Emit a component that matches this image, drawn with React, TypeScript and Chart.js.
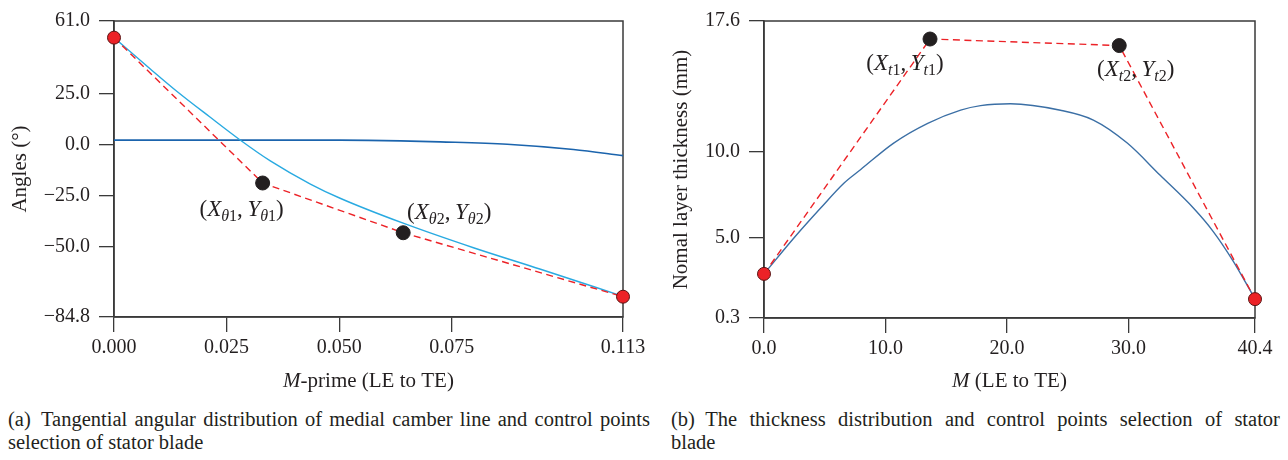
import React, { useEffect, useRef } from "react";
import { Chart, registerables } from "chart.js";

Chart.register(...registerables);

const SERIF = "'Liberation Serif', 'Times New Roman', Times, serif";
const INK = "#231f20";
const AXIS = "#3a3a3a";
const RED = "#ec2227";
const RED_EDGE = "#5a1414";
const DOT = "#231f20";

// ---------- (a) tangential angle vs M-prime ----------
const mPrimeTicks = [0, 0.025, 0.05, 0.075, 0.113];
const angleTicks = [-84.8, -50.0, -25.0, 0.0, 25.0, 61.0];
const camberM = [0, 0.008, 0.014, 0.0213, 0.028, 0.0347, 0.0436, 0.0502, 0.0642, 0.0798, 0.0947, 0.113];
const camberAngle = [52.8, 37.5, 26.3, 13.7, 2.4, -7.9, -19.3, -26.3, -38.6, -50.7, -61.3, -74.6];
const flatM = [0, 0.025, 0.0502, 0.0636, 0.0724, 0.0873, 0.102, 0.113];
const flatAngle = [2.3, 2.3, 2.3, 2.0, 1.5, 0.3, -2.3, -5.3];
const angleCtrlM = [0, 0.033, 0.0642, 0.113];
const angleCtrlValue = [52.8, -18.8, -43.3, -74.8];

// ---------- (b) thickness vs M ----------
const mTicks = [0, 10, 20, 30, 40.4];
const thicknessTicks = [0.3, 5.0, 10.0, 17.6];
const thickM = [0, 2.46, 4.68, 6.57, 7.96, 10.67, 13.47, 16.18, 17.82, 20.28, 24.39, 27.1, 29.89, 32.6, 35.31, 36.95, 38.59, 39.99, 40.4];
const thickValue = [2.87, 4.96, 6.72, 8.15, 8.95, 10.49, 11.64, 12.41, 12.67, 12.78, 12.4, 11.83, 10.49, 8.61, 6.72, 5.35, 3.63, 1.92, 1.4];
const thickCtrlM = [0, 13.66, 29.23, 40.4];
const thickCtrlValue = [2.87, 16.55, 16.17, 1.4];

type Part = { t: string; italic?: boolean; sub?: boolean };

const ctrlLabel = (sym: string, idx: string): Part[] => [
  { t: "(" },
  { t: "X", italic: true },
  { t: sym, italic: true, sub: true },
  { t: idx, sub: true },
  { t: ",\u2009" },
  { t: "Y", italic: true },
  { t: sym, italic: true, sub: true },
  { t: idx, sub: true },
  { t: ")" },
];

function drawParts(ctx: CanvasRenderingContext2D, parts: Part[], cx: number, cy: number, size: number) {
  const subSize = Math.round(size * 0.7);
  const fontFor = (p: Part) => `${p.italic ? "italic " : ""}${p.sub ? subSize : size}px ${SERIF}`;
  let w = 0;
  parts.forEach((p) => {
    ctx.font = fontFor(p);
    w += ctx.measureText(p.t).width;
  });
  let x = cx - w / 2;
  ctx.textAlign = "left";
  ctx.textBaseline = "alphabetic";
  const base = cy + size * 0.33;
  parts.forEach((p) => {
    ctx.font = fontFor(p);
    ctx.fillText(p.t, x, base + (p.sub ? size * 0.22 : 0));
    x += ctx.measureText(p.t).width;
  });
}

type Deco = {
  xTitle: Part[];
  xTitleY: number;
  yTitle: string;
  yTitleX: number;
  notes: { index: number; parts: Part[]; dx: number; dy: number }[];
};

const TITLE_SIZE = 21;
const NOTE_SIZE = 23;
const TICK_SIZE = 20;

function makeDecoPlugin(d: Deco) {
  return {
    id: "deco",
    beforeDatasetsDraw(chart: any) {
      const { ctx, chartArea: a } = chart;
      ctx.save();
      ctx.strokeStyle = AXIS;
      ctx.lineWidth = 1.5;
      ctx.strokeRect(a.left, a.top, a.right - a.left, a.bottom - a.top);
      ctx.restore();
    },
    afterDraw(chart: any) {
      const { ctx, chartArea: a } = chart;
      ctx.save();
      ctx.fillStyle = INK;
      drawParts(ctx, d.xTitle, (a.left + a.right) / 2, d.xTitleY, TITLE_SIZE);
      ctx.save();
      ctx.translate(d.yTitleX, (a.top + a.bottom) / 2);
      ctx.rotate(-Math.PI / 2);
      ctx.font = `${TITLE_SIZE}px ${SERIF}`;
      ctx.textAlign = "center";
      ctx.textBaseline = "middle";
      ctx.fillText(d.yTitle, 0, 0);
      ctx.restore();
      const meta = chart.getDatasetMeta(0);
      d.notes.forEach((n) => {
        const el = meta.data[n.index];
        drawParts(ctx, n.parts, el.x + n.dx, el.y + n.dy, NOTE_SIZE);
      });
      ctx.restore();
    },
  };
}

type PlotProps = {
  width: number;
  height: number;
  left: number;
  areaLeft: number;
  areaRight: number;
  areaTop: number;
  areaBottom: number;
  xMin: number;
  xMax: number;
  yMin: number;
  yMax: number;
  xTicks: number[];
  yTicks: number[];
  xFmt: (v: number) => string;
  yFmt: (v: number) => string;
  datasets: any[];
  deco: Deco;
};

function Plot(p: PlotProps) {
  const ref = useRef<HTMLCanvasElement | null>(null);
  useEffect(() => {
    if (!ref.current) return;
    const tickFont = { family: SERIF, size: TICK_SIZE };
    const grid = { drawOnChartArea: false, drawTicks: true, tickLength: 15, color: AXIS, lineWidth: 1.3 };
    const border = { display: true, color: AXIS, width: 1.5 };
    const chart = new Chart(ref.current, {
      type: "line",
      data: { datasets: p.datasets },
      options: {
        responsive: false,
        animation: false,
        devicePixelRatio: 1,
        events: [],
        layout: { padding: { top: p.areaTop, right: p.width - p.areaRight, left: 0, bottom: 0 } },
        plugins: { legend: { display: false }, tooltip: { enabled: false } },
        scales: {
          x: {
            type: "linear",
            min: p.xMin,
            max: p.xMax,
            afterBuildTicks: (s: any) => {
              s.ticks = p.xTicks.map((v) => ({ value: v }));
            },
            afterFit: (s: any) => {
              s.height = p.height - p.areaBottom;
            },
            grid,
            border,
            ticks: {
              font: tickFont,
              color: INK,
              padding: 4,
              maxRotation: 0,
              autoSkip: false,
              callback: (v: any) => p.xFmt(Number(v)),
            },
          },
          y: {
            type: "linear",
            min: p.yMin,
            max: p.yMax,
            afterBuildTicks: (s: any) => {
              s.ticks = p.yTicks.map((v) => ({ value: v }));
            },
            afterFit: (s: any) => {
              s.width = p.areaLeft;
            },
            grid,
            border,
            ticks: {
              font: tickFont,
              color: INK,
              padding: 9,
              autoSkip: false,
              callback: (v: any) => p.yFmt(Number(v)),
            },
          },
        },
      } as any,
      plugins: [makeDecoPlugin(p.deco)],
    });
    return () => chart.destroy();
  }, []);
  return (
    <canvas
      ref={ref}
      width={p.width}
      height={p.height}
      style={{ position: "absolute", left: p.left, top: 0, width: p.width, height: p.height, display: "block" }}
    />
  );
}

const pts = (xs: number[], ys: number[]) => xs.map((x, i) => ({ x, y: ys[i] }));

const ctrlDataset = (xs: number[], ys: number[]) => ({
  data: pts(xs, ys),
  borderColor: RED,
  borderWidth: 1.4,
  borderDash: [7, 4.5],
  tension: 0,
  fill: false,
  pointRadius: [6.5, 7, 7, 6.5],
  pointBackgroundColor: [RED, DOT, DOT, RED],
  pointBorderColor: [RED_EDGE, DOT, DOT, RED_EDGE],
  pointBorderWidth: 1,
  clip: false,
  order: 0,
});

const curveDataset = (xs: number[], ys: number[], color: string, width: number, order: number) => ({
  data: pts(xs, ys),
  borderColor: color,
  borderWidth: width,
  pointRadius: 0,
  fill: false,
  cubicInterpolationMode: "monotone",
  clip: false,
  order,
});

const signed = (v: number, d: number) => (v < 0 ? "\u2212" : "") + Math.abs(v).toFixed(d);

function Caption({ left, width, first, second }: { left: number; width: number; first: string[]; second: string }) {
  return (
    <div
      style={{
        position: "absolute",
        left,
        top: 408,
        width,
        font: `20.5px ${SERIF}`,
        lineHeight: "23px",
        color: INK,
      }}
    >
      <div style={{ display: "flex", justifyContent: "space-between", whiteSpace: "nowrap" }}>
        {first.map((w, i) => (
          <span key={i}>{w}</span>
        ))}
      </div>
      <div>{second}</div>
    </div>
  );
}

const captionA = ["(a)\u00a0\u00a0Tangential", "angular", "distribution", "of", "medial", "camber", "line", "and", "control", "points"];
const captionB = ["(b)\u00a0\u00a0The", "thickness", "distribution", "and", "control", "points", "selection", "of", "stator"];

export default function App() {
  return (
    <div style={{ position: "absolute", left: 0, top: 0, width: 1288, height: 460, background: "#fff", overflow: "hidden" }}>
      <Plot
        width={655}
        height={400}
        left={0}
        areaLeft={114}
        areaRight={623}
        areaTop={15}
        areaBottom={317}
        xMin={0}
        xMax={0.113}
        yMin={-84.8}
        yMax={61.0}
        xTicks={mPrimeTicks}
        yTicks={angleTicks}
        xFmt={(v) => v.toFixed(3)}
        yFmt={(v) => signed(v, 1)}
        datasets={[
          ctrlDataset(angleCtrlM, angleCtrlValue),
          curveDataset(camberM, camberAngle, "#29aae1", 1.4, 1),
          curveDataset(flatM, flatAngle, "#1b64ad", 1.7, 2),
        ]}
        deco={{
          xTitle: [{ t: "M", italic: true }, { t: "-prime (LE to TE)" }],
          xTitleY: 380,
          yTitle: "Angles (\u00b0)",
          yTitleX: 20.5,
          notes: [
            { index: 1, parts: ctrlLabel("\u03b8", "1"), dx: -21, dy: 25 },
            { index: 2, parts: ctrlLabel("\u03b8", "2"), dx: 46, dy: -21 },
          ],
        }}
      />
      <Plot
        width={633}
        height={400}
        left={655}
        areaLeft={109}
        areaRight={600}
        areaTop={16}
        areaBottom={318}
        xMin={0}
        xMax={40.4}
        yMin={0.3}
        yMax={17.6}
        xTicks={mTicks}
        yTicks={thicknessTicks}
        xFmt={(v) => v.toFixed(1)}
        yFmt={(v) => v.toFixed(1)}
        datasets={[
          ctrlDataset(thickCtrlM, thickCtrlValue),
          curveDataset(thickM, thickValue, "#3b6fa5", 1.4, 1),
        ]}
        deco={{
          xTitle: [{ t: "M", italic: true }, { t: " (LE to TE)" }],
          xTitleY: 380,
          yTitle: "Nomal layer thickness (mm)",
          yTitleX: 26.5,
          notes: [
            { index: 1, parts: ctrlLabel("t", "1"), dx: -25, dy: 23 },
            { index: 2, parts: ctrlLabel("t", "2"), dx: 16.5, dy: 23 },
          ],
        }}
      />
      <Caption left={8} width={642} first={captionA} second="selection of stator blade" />
      <Caption left={671} width={609} first={captionB} second="blade" />
    </div>
  );
}
